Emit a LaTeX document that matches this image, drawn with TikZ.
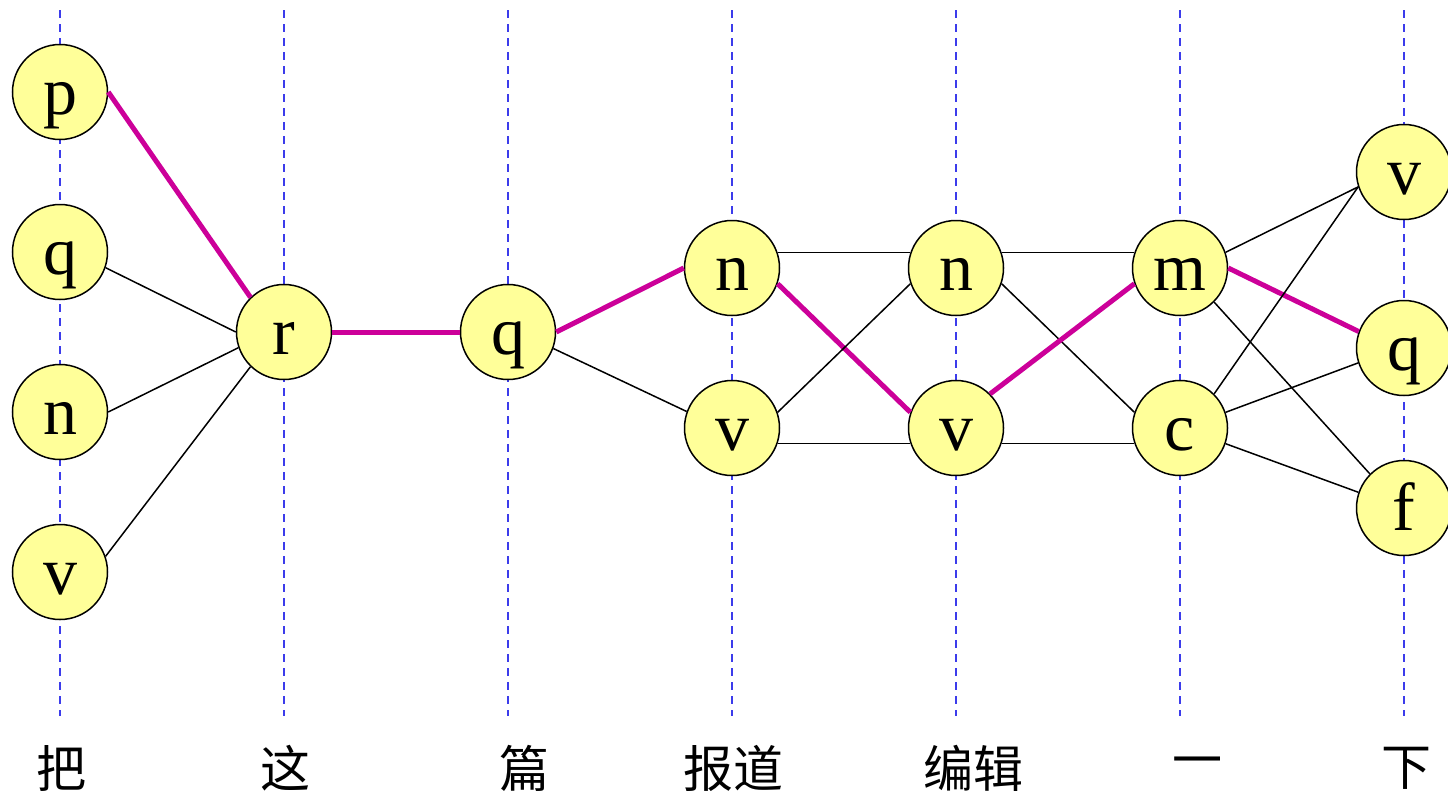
\documentclass[tikz,border=0pt]{standalone}
\usepackage{fontspec}
\setmainfont{Liberation Serif}
\newfontfamily\cjk{Noto Sans CJK SC}
\usepackage{tikz}
\usepackage{xcolor}
\definecolor{ColNode}{RGB}{255,255,153}
\definecolor{ColBest}{RGB}{204,0,153}
\definecolor{ColGrid}{RGB}{60,60,235}
\tikzstyle{TagNode}=[circle,draw=black,fill=ColNode,line width=1.5pt,inner sep=0pt,
minimum size=95pt,font=\fontsize{68}{68}\selectfont,text height=45pt,text depth=0pt]
\tikzstyle{TagEdge}=[black,line width=1.5pt]
\tikzstyle{BestEdge}=[ColBest,line width=5pt]
\tikzstyle{WordLine}=[ColGrid,line width=1.5pt,dash pattern=on 8pt off 6pt]
\tikzstyle{WordNode}=[inner sep=0pt,font=\cjk\fontsize{50}{50}\selectfont]

\begin{document}
\begin{tikzpicture}[x=1pt,y=-1pt]
        \useasboundingbox(0,0)rectangle(1448,796);
        % one dashed guide per word
        \foreach \i/\x in {1/60,2/284,3/508,4/732,5/956,6/1180,7/1404}{
            \coordinate(t\i)at(\x,10);
            \coordinate(b\i)at(\x,716);
            \draw[WordLine](t\i)--(b\i);
        }
        % tags
        \node[TagNode](p1)at(60,92){p};
        \node[TagNode](q1)at(60,252){q};
        \node[TagNode](n1)at(60,412){n};
        \node[TagNode](v1)at(60,572){v};
        \node[TagNode](r2)at(284,332){r};
        \node[TagNode](q3)at(508,332){q};
        \node[TagNode](n4)at(732,268){n};
        \node[TagNode](v4)at(732,428){v};
        \node[TagNode](n5)at(956,268){n};
        \node[TagNode](v5)at(956,428){v};
        \node[TagNode](m6)at(1180,268){m};
        \node[TagNode](c6)at(1180,428){c};
        \node[TagNode](v7)at(1404,172){v};
        \node[TagNode](q7)at(1404,348){q};
        \node[TagNode](f7)at(1404,508){f};
        % transitions
        \draw[BestEdge](p1.east)--(r2.134);
        \draw[TagEdge](q1.-19)--(r2.west);
        \draw[TagEdge](n1.east)--(r2.199);
        \draw[TagEdge](v1.19)--(r2.-134);
        \draw[BestEdge](r2.east)--(q3.west);
        \draw[BestEdge](q3.east)--(n4.west);
        \draw[TagEdge](q3.-20)--(v4.160);
        \draw[TagEdge](n4.19)--(n5.161);
        \draw[BestEdge](n4.-19)--(v5.161);
        \draw[TagEdge](v4.19)--(n5.199);
        \draw[TagEdge](v4.-19)--(v5.199);
        \draw[TagEdge](n5.19)--(m6.161);
        \draw[TagEdge](n5.-19)--(c6.161);
        \draw[BestEdge](v5.45)--(m6.199);
        \draw[TagEdge](v5.-19)--(c6.199);
        \draw[TagEdge](m6.19)--(v7.198);
        \draw[BestEdge](m6.east)--(q7.160);
        \draw[TagEdge](m6.-45)--(f7.135);
        \draw[TagEdge](c6.45)--(v7.198);
        \draw[TagEdge](c6.19)--(q7.198);
        \draw[TagEdge](c6.-19)--(f7.161);
        % words
        \node[WordNode](w1)at(61,768){把};
        \node[WordNode](w2)at(285,768){这};
        \node[WordNode](w3)at(524,768){篇};
        \node[WordNode](w4)at(733,768){报道};
        \node[WordNode](w5)at(973,768){编辑};
        \node[WordNode](w6)at(1197,768){一};
        \node[WordNode](w7)at(1406,768){下};
    \end{tikzpicture}
\end{document}
